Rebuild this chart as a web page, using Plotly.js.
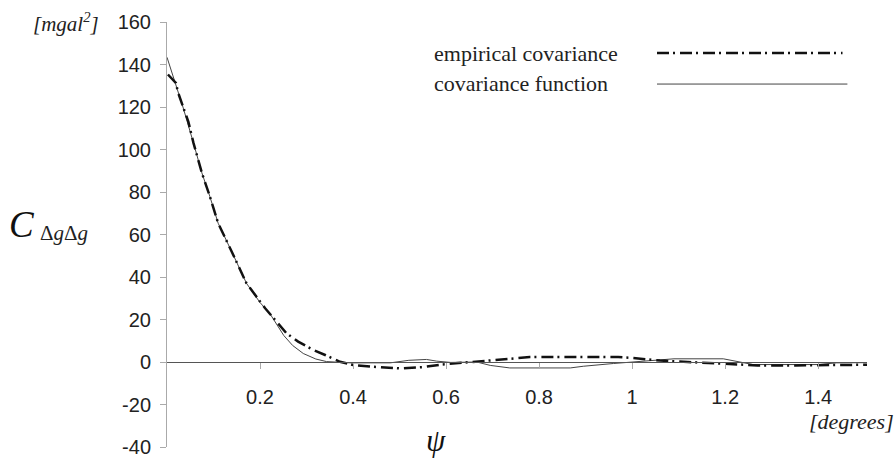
<!DOCTYPE html>
<html>
<head>
<meta charset="utf-8">
<script src="https://cdn.plot.ly/plotly-3.0.1.min.js"></script>
<style>html,body{margin:0;padding:0;background:#fff;}#chart{width:894px;height:460px;}</style>
</head>
<body>
<div id="chart"></div>
<script>
// Empirical covariance (dash-dot)
const empX = [0.002, 0.019, 0.024, 0.035, 0.046, 0.057, 0.075, 0.092, 0.110, 0.139, 0.171, 0.211, 0.232, 0.257, 0.282, 0.315, 0.340, 0.372, 0.400, 0.440, 0.500, 0.550, 0.590, 0.620, 0.660, 0.690, 0.740, 0.780, 0.830, 0.900, 0.970, 1.000, 1.030, 1.060, 1.120, 1.160, 1.200, 1.230, 1.270, 1.350, 1.450, 1.505];
const empY = [135.3, 131.4, 126.7, 119.5, 113, 103, 89, 78, 65.3, 52, 37, 25.3, 19.8, 13.5, 9.6, 5.6, 3.3, 0.1, -1.4, -2.2, -3.0, -2.4, -1.2, -0.7, 0, 0.6, 1.5, 2.3, 2.4, 2.4, 2.3, 1.9, 1.2, 0.7, 0, -0.4, -0.7, -1.2, -1.6, -1.6, -1.6, -1.3];
// Covariance function (solid)
const fnX = [0, 0.019, 0.035, 0.057, 0.075, 0.092, 0.110, 0.139, 0.171, 0.200, 0.222, 0.251, 0.270, 0.293, 0.320, 0.343, 0.394, 0.480, 0.520, 0.558, 0.580, 0.610, 0.666, 0.695, 0.737, 0.867, 0.895, 0.960, 1.000, 1.090, 1.196, 1.230, 1.260, 1.400, 1.440, 1.505];
const fnY = [143.4, 131, 119.5, 103, 89, 78, 65.3, 52, 37, 28, 22.5, 12.5, 7.8, 4, 1.4, 0.2, -0.4, -0.4, 0.8, 1.2, 0.4, -0.2, 0, -1.6, -2.8, -2.8, -2, -0.7, 0, 1.5, 1.5, 0, -1.2, -1.2, -0.4, -0.3];
const xTicks = [0.2, 0.4, 0.6, 0.8, 1, 1.2, 1.4];
const yTicks = [-40, -20, 0, 20, 40, 60, 80, 100, 120, 140, 160];
const seriesNames = ['empirical covariance', 'covariance function'];

const serif = 'Liberation Serif, Times New Roman, serif';
const sans = 'Liberation Sans, Arial, sans-serif';
const empDash = '12px,4px,2px,5px';

const traces = [
  {x: fnX, y: fnY, mode: 'lines', name: seriesNames[1], line: {color: '#444', width: 1}, showlegend: false},
  {x: empX, y: empY, mode: 'lines', name: seriesNames[0], line: {color: '#111', width: 2.5, dash: empDash}, showlegend: false}
];

const layout = {
  width: 894, height: 460,
  margin: {l: 167, r: 27, t: 22, b: 13},
  paper_bgcolor: '#fff', plot_bgcolor: '#fff',
  showlegend: false,
  xaxis: {
    range: [0, 1.505], anchor: 'free', position: 0.2,
    showline: true, linecolor: '#555', linewidth: 1,
    showgrid: false, zeroline: false,
    tickmode: 'array', tickvals: xTicks, ticktext: xTicks.map(String),
    ticks: 'outside', ticklen: 6, tickcolor: '#aaa',
    ticklabelstandoff: 11,
    tickfont: {family: sans, size: 20, color: '#222'}
  },
  yaxis: {
    range: [-40, 160],
    showline: true, linecolor: '#aaa', linewidth: 1,
    showgrid: false, zeroline: false,
    tickmode: 'array', tickvals: yTicks, ticktext: yTicks.map(String),
    ticks: 'outside', ticklen: 6, tickcolor: '#aaa',
    ticklabelstandoff: 5,
    tickfont: {family: sans, size: 20, color: '#222'}
  },
  shapes: [
    {type: 'line', xref: 'paper', yref: 'paper', x0: 0.700, x1: 0.965, y0: 0.927, y1: 0.927, line: {color: '#111', width: 2.5, dash: empDash}},
    {type: 'line', xref: 'paper', yref: 'paper', x0: 0.700, x1: 0.972, y0: 0.854, y1: 0.854, line: {color: '#444', width: 1}}
  ],
  annotations: [
    {xref: 'paper', yref: 'paper', x: 0.378, y: 0.927, xanchor: 'left', yanchor: 'middle', text: seriesNames[0], showarrow: false, font: {family: serif, size: 22, color: '#222'}},
    {xref: 'paper', yref: 'paper', x: 0.378, y: 0.856, xanchor: 'left', yanchor: 'middle', text: seriesNames[1], showarrow: false, font: {family: serif, size: 22, color: '#222'}},
    {xref: 'paper', yref: 'paper', x: -0.195, y: 0.998, xanchor: 'left', yanchor: 'middle', text: '<i>[mgal<sup>2</sup>]</i>', showarrow: false, font: {family: serif, size: 21, color: '#222'}},
    {xref: 'paper', yref: 'paper', x: -0.228, y: 0.524, xanchor: 'left', yanchor: 'middle', text: '<i>C</i>', showarrow: false, font: {family: serif, size: 37, color: '#111'}},
    {xref: 'paper', yref: 'paper', x: -0.184, y: 0.503, xanchor: 'left', yanchor: 'middle', text: 'Δ<i>g</i>Δ<i>g</i>', showarrow: false, font: {family: serif, size: 21, color: '#222'}},
    {xref: 'paper', yref: 'paper', x: 0.384, y: 0.016, xanchor: 'center', yanchor: 'middle', text: '<i>ψ</i>', showarrow: false, font: {family: serif, size: 31, color: '#111'}},
    {xref: 'paper', yref: 'paper', x: 1.041, y: 0.061, xanchor: 'right', yanchor: 'middle', text: '<i>[degrees]</i>', showarrow: false, font: {family: serif, size: 22, color: '#222'}}
  ]
};

Plotly.newPlot('chart', traces, layout, {displayModeBar: false, staticPlot: true});
</script>
</body>
</html>
